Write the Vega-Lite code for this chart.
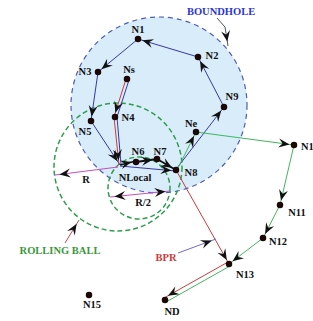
{
  "$schema": "https://vega.github.io/schema/vega-lite/v6.json",
  "width": 313,
  "height": 321,
  "autosize": "none",
  "padding": 0,
  "background": "white",
  "config": {"view": {"stroke": null}},
  "datasets": {
    "circles": [
      {"name": "boundhole", "x": 159, "y": 105, "r": 88, "kind": "hole"},
      {"name": "ball", "x": 118, "y": 167, "r": 64, "kind": "ball"},
      {"name": "half", "x": 139, "y": 188, "r": 31, "kind": "ball"}
    ],
    "edges": [
      {"x": 177, "y": 168, "x2": 224, "y2": 107, "kind": "blue", "arrow": 1},
      {"x": 224, "y": 107, "x2": 198, "y2": 57, "kind": "blue", "arrow": 1},
      {"x": 198, "y": 57, "x2": 138, "y2": 39, "kind": "blue", "arrow": 1},
      {"x": 138, "y": 39, "x2": 98, "y2": 72, "kind": "blue", "arrow": 1},
      {"x": 98, "y": 72, "x2": 91, "y2": 121, "kind": "blue", "arrow": 1},
      {"x": 91, "y": 121, "x2": 120, "y2": 165, "kind": "blue", "arrow": 1},
      {"x": 120, "y": 166, "x2": 176, "y2": 171, "kind": "blue", "arrow": 1},
      {"x": 129, "y": 80, "x2": 117, "y2": 117, "kind": "blue", "arrow": 0},
      {"x": 117, "y": 117, "x2": 121, "y2": 164, "kind": "blue", "arrow": 0},
      {"x": 126, "y": 79, "x2": 114, "y2": 117, "kind": "red", "arrow": 1},
      {"x": 114, "y": 117, "x2": 119, "y2": 165, "kind": "red", "arrow": 1},
      {"x": 176, "y": 170, "x2": 229, "y2": 264, "kind": "red", "arrow": 1},
      {"x": 228, "y": 262, "x2": 164, "y2": 298, "kind": "red", "arrow": 1},
      {"x": 178, "y": 168, "x2": 196, "y2": 132, "kind": "green", "arrow": 1},
      {"x": 196, "y": 132, "x2": 294, "y2": 145, "kind": "green", "arrow": 1},
      {"x": 294, "y": 145, "x2": 280, "y2": 205, "kind": "green", "arrow": 1},
      {"x": 280, "y": 205, "x2": 263, "y2": 238, "kind": "green", "arrow": 1},
      {"x": 263, "y": 238, "x2": 229, "y2": 264, "kind": "green", "arrow": 1},
      {"x": 230, "y": 266, "x2": 166, "y2": 302, "kind": "green", "arrow": 0},
      {"x": 120, "y": 165, "x2": 136, "y2": 161, "kind": "black", "arrow": 1},
      {"x": 136, "y": 162, "x2": 157, "y2": 159, "kind": "black", "arrow": 1},
      {"x": 157, "y": 159, "x2": 176, "y2": 170, "kind": "black", "arrow": 1},
      {"x": 118, "y": 167, "x2": 55, "y2": 175, "kind": "pink", "arrow": 1},
      {"x": 140, "y": 194, "x2": 110, "y2": 197, "kind": "pink", "arrow": 1},
      {"x": 140, "y": 194, "x2": 170, "y2": 191, "kind": "pink", "arrow": 1},
      {"x": 217, "y": 18, "x2": 225, "y2": 27, "kind": "annblue", "arrow": 0},
      {"x": 225, "y": 27, "x2": 228, "y2": 46, "kind": "annblue", "arrow": 1},
      {"x": 65, "y": 243, "x2": 79, "y2": 220, "kind": "annred", "arrow": 1},
      {"x": 178, "y": 253, "x2": 216, "y2": 239, "kind": "annpurple", "arrow": 1}
    ],
    "nodes": [
      {"name": "N1", "x": 138, "y": 39}, {"name": "N2", "x": 198, "y": 57},
      {"name": "N3", "x": 98, "y": 72}, {"name": "Ns", "x": 127, "y": 79},
      {"name": "N4", "x": 115, "y": 117}, {"name": "N5", "x": 91, "y": 121},
      {"name": "N9", "x": 224, "y": 107}, {"name": "Ne", "x": 196, "y": 132},
      {"name": "N10", "x": 294, "y": 145}, {"name": "N6", "x": 136, "y": 162},
      {"name": "N7", "x": 157, "y": 159}, {"name": "N8", "x": 176, "y": 170},
      {"name": "N11", "x": 280, "y": 205}, {"name": "N12", "x": 263, "y": 238},
      {"name": "N13", "x": 229, "y": 264}, {"name": "ND", "x": 165, "y": 300},
      {"name": "N15", "x": 89, "y": 295}
    ],
    "labels": [
      {"text": "N1", "x": 138, "y": 30, "kind": "node"},
      {"text": "N2", "x": 212, "y": 56, "kind": "node"},
      {"text": "N3", "x": 85, "y": 72, "kind": "node"},
      {"text": "Ns", "x": 129, "y": 70, "kind": "node"},
      {"text": "N4", "x": 128, "y": 118, "kind": "node"},
      {"text": "N5", "x": 85, "y": 132, "kind": "node"},
      {"text": "N6", "x": 138, "y": 152, "kind": "node"},
      {"text": "N7", "x": 160, "y": 152, "kind": "node"},
      {"text": "N8", "x": 191, "y": 173, "kind": "node"},
      {"text": "N9", "x": 232, "y": 97, "kind": "node"},
      {"text": "Ne", "x": 191, "y": 124, "kind": "node"},
      {"text": "N10", "x": 310, "y": 147, "kind": "node"},
      {"text": "N11", "x": 297, "y": 213, "kind": "node"},
      {"text": "N12", "x": 278, "y": 242, "kind": "node"},
      {"text": "N13", "x": 245, "y": 275, "kind": "node"},
      {"text": "ND", "x": 172, "y": 312, "kind": "node"},
      {"text": "N15", "x": 92, "y": 305, "kind": "node"},
      {"text": "NLocal", "x": 135, "y": 178, "kind": "node"},
      {"text": "R", "x": 86, "y": 180, "kind": "node"},
      {"text": "R/2", "x": 143, "y": 203, "kind": "node"},
      {"text": "BOUNDHOLE", "x": 221, "y": 12, "kind": "tblue"},
      {"text": "ROLLING BALL", "x": 60, "y": 251, "kind": "tgreen"},
      {"text": "BPR", "x": 166, "y": 258, "kind": "tred"}
    ]
  },
  "layer": [
    {
      "data": {"name": "circles"},
      "transform": [{"filter": "datum.kind == 'hole'"}],
      "mark": {"type": "point", "shape": "circle", "filled": true, "fill": "#d8ecfa", "stroke": "#4d5db5", "strokeWidth": 1.2, "strokeDash": [5, 4], "opacity": 1},
      "encoding": {
        "x": {"field": "x", "type": "quantitative", "scale": {"domain": [0, 313], "nice": false, "zero": false}, "axis": null},
        "y": {"field": "y", "type": "quantitative", "scale": {"domain": [0, 321], "nice": false, "zero": false, "reverse": true}, "axis": null},
        "size": {"field": "r", "type": "quantitative", "scale": {"type": "pow", "exponent": 2, "domain": [0, 100], "range": [0, 40000]}, "legend": null}
      }
    },
    {
      "data": {"name": "circles"},
      "transform": [{"filter": "datum.kind == 'ball'"}],
      "mark": {"type": "point", "shape": "circle", "filled": false, "fill": null, "stroke": "#2f9d4c", "strokeWidth": 1.5, "strokeDash": [5, 3], "opacity": 1},
      "encoding": {
        "x": {"field": "x", "type": "quantitative", "scale": {"domain": [0, 313], "nice": false, "zero": false}, "axis": null},
        "y": {"field": "y", "type": "quantitative", "scale": {"domain": [0, 321], "nice": false, "zero": false, "reverse": true}, "axis": null},
        "size": {"field": "r", "type": "quantitative", "scale": {"type": "pow", "exponent": 2, "domain": [0, 100], "range": [0, 40000]}, "legend": null}
      }
    },
    {
      "data": {"name": "edges"},
      "transform": [{"filter": "datum.kind != 'black'"}],
      "mark": {"type": "rule", "strokeWidth": 1},
      "encoding": {
        "x": {"field": "x", "type": "quantitative", "scale": {"domain": [0, 313], "nice": false, "zero": false}, "axis": null},
        "y": {"field": "y", "type": "quantitative", "scale": {"domain": [0, 321], "nice": false, "zero": false, "reverse": true}, "axis": null},
        "x2": {"field": "x2"},
        "y2": {"field": "y2"},
        "color": {"field": "kind", "type": "nominal", "legend": null,
          "scale": {"domain": ["blue", "red", "green", "pink", "annblue", "annred", "annpurple", "black", "node", "tblue", "tgreen", "tred"],
                    "range": ["#3838a6", "#cc3b3b", "#3fb85c", "#c24fc4", "#4a5575", "#d2484d", "#6b6bd0", "#111111", "#111111", "#2a36d8", "#3a973a", "#d03a3a"]}}
      }
    },
    {
      "data": {"name": "edges"},
      "transform": [{"filter": "datum.kind == 'black'"}],
      "mark": {"type": "rule", "strokeWidth": 1.8, "color": "#111111"},
      "encoding": {
        "x": {"field": "x", "type": "quantitative", "scale": {"domain": [0, 313], "nice": false, "zero": false}, "axis": null},
        "y": {"field": "y", "type": "quantitative", "scale": {"domain": [0, 321], "nice": false, "zero": false, "reverse": true}, "axis": null},
        "x2": {"field": "x2"},
        "y2": {"field": "y2"}
      }
    },
    {
      "data": {"name": "edges"},
      "transform": [
        {"filter": "datum.arrow == 1"},
        {"calculate": "(atan2(datum.x2 - datum.x, datum.y - datum.y2) * 180 / PI + 360) % 360", "as": "ang"}
      ],
      "mark": {"type": "point", "shape": "M0,0.45 L0.45,1.55 L0,1.15 L-0.45,1.55 Z", "filled": true, "fill": "#111111", "strokeWidth": 0, "opacity": 1, "size": 400},
      "encoding": {
        "x": {"field": "x2", "type": "quantitative", "scale": {"domain": [0, 313], "nice": false, "zero": false}, "axis": null},
        "y": {"field": "y2", "type": "quantitative", "scale": {"domain": [0, 321], "nice": false, "zero": false, "reverse": true}, "axis": null},
        "angle": {"field": "ang", "type": "quantitative", "scale": null}
      }
    },
    {
      "data": {"name": "nodes"},
      "mark": {"type": "point", "shape": "circle", "filled": true, "fill": "#1c0707", "opacity": 1, "size": 42, "strokeWidth": 0},
      "encoding": {
        "x": {"field": "x", "type": "quantitative", "scale": {"domain": [0, 313], "nice": false, "zero": false}, "axis": null},
        "y": {"field": "y", "type": "quantitative", "scale": {"domain": [0, 321], "nice": false, "zero": false, "reverse": true}, "axis": null}
      }
    },
    {
      "data": {"name": "labels"},
      "mark": {"type": "text", "font": "Liberation Serif", "fontSize": 10.5, "fontWeight": "bold", "align": "center", "baseline": "middle"},
      "encoding": {
        "x": {"field": "x", "type": "quantitative", "scale": {"domain": [0, 313], "nice": false, "zero": false}, "axis": null},
        "y": {"field": "y", "type": "quantitative", "scale": {"domain": [0, 321], "nice": false, "zero": false, "reverse": true}, "axis": null},
        "text": {"field": "text", "type": "nominal"},
        "color": {"field": "kind", "type": "nominal", "legend": null,
          "scale": {"domain": ["blue", "red", "green", "pink", "annblue", "annred", "annpurple", "black", "node", "tblue", "tgreen", "tred"],
                    "range": ["#3838a6", "#cc3b3b", "#3fb85c", "#c24fc4", "#4a5575", "#d2484d", "#6b6bd0", "#111111", "#111111", "#2a36d8", "#3a973a", "#d03a3a"]}}
      }
    }
  ]
}
